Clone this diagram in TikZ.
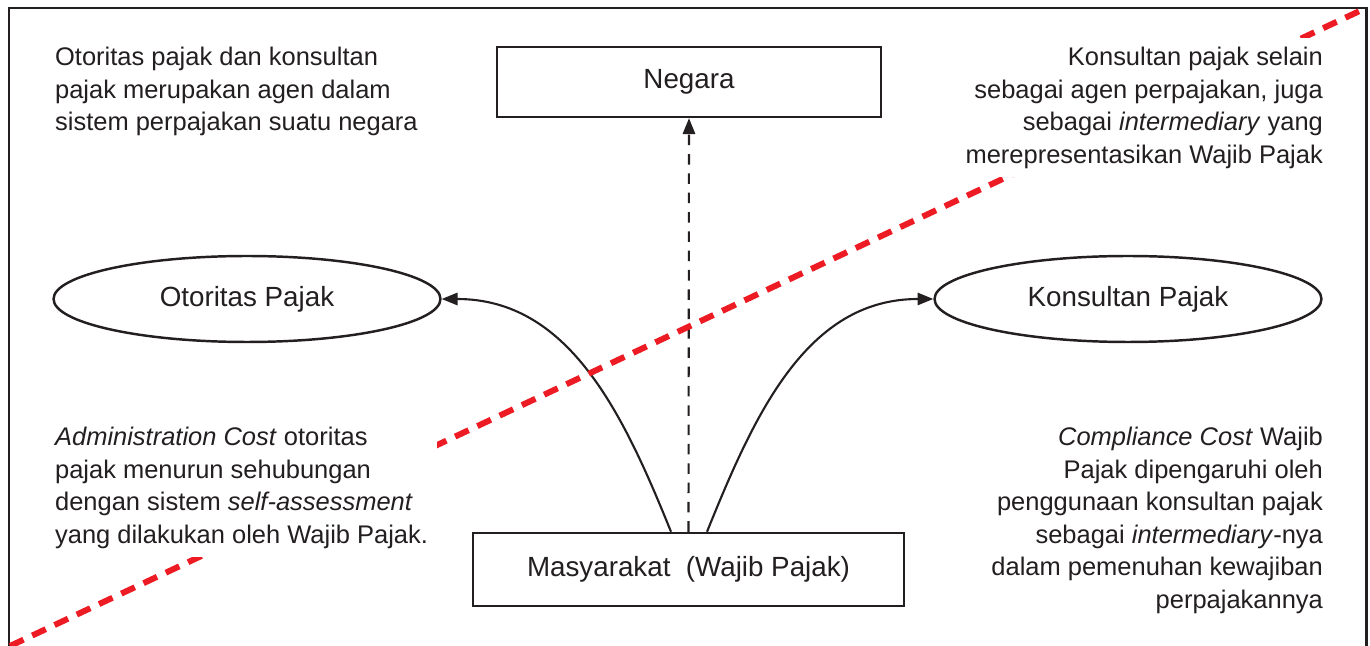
\documentclass[tikz,border=0pt]{standalone}
\usepackage{fontspec}
\setmainfont{Liberation Sans}
\usepackage{tikz}
\usetikzlibrary{shapes.geometric, arrows.meta, calc}
\definecolor{inkgray}{RGB}{35,31,32}
\definecolor{cutred}{RGB}{237,28,36}

\begin{document}
\begin{tikzpicture}[x=0.02cm, y=0.02cm, >={Triangle[length=9pt, width=7pt]},
    every node/.style={text=inkgray, font=\fontsize{14.5}{18.5}\selectfont},
    entitybox/.style={draw=inkgray, line width=1.4pt, fill=white, rectangle,
                      font=\fontsize{15.8}{19}\selectfont},
    entityoval/.style={draw=inkgray, line width=1.4pt, fill=white, ellipse,
                       minimum width=7.74cm, minimum height=1.72cm,
                       font=\fontsize{15.8}{19}\selectfont},
    notetext/.style={fill=white, inner sep=5pt},
    link/.style={->, draw=inkgray, line width=1.2pt},
    cutline/.style={draw=cutred, line width=3.4pt, dash pattern=on 8.5pt off 5.5pt}]
    \useasboundingbox (0,0) rectangle (1370,646);
    % frame, open at the bottom
    \coordinate (fbl) at (9,0);
    \coordinate (ftl) at (9,638);
    \coordinate (ftr) at (1366,638);
    \coordinate (fbr) at (1366,0);
    \draw[draw=inkgray, line width=1.7pt] (fbl) -- (ftl) -- (ftr) -- (fbr);

    % the four parties
    \node[entitybox, minimum width=7.68cm, minimum height=1.4cm]
          (negara) at (689,564) {Negara};
    \node[entitybox, minimum width=8.62cm, minimum height=1.46cm]
          (masy) at (688.5,76.5) {Masyarakat\ \ (Wajib Pajak)};
    \node[entityoval] (otoritas) at (247,347) {Otoritas Pajak};
    \node[entityoval] (konsultan) at (1128,347) {Konsultan Pajak};

    \draw[link, dash pattern=on 6pt off 5pt] (masy.north) -- (negara.south);
    \draw[link] ($(masy.north)+(-17.5,0)$) to[out=112, in=0] (otoritas.east);
    \draw[link] ($(masy.north)+(18.5,0)$) to[out=68, in=180] (konsultan.west);

    % diagonal red cut
    \coordinate (cutstart) at (10,0);
    \coordinate (cutend) at (1366,638);
    \draw[cutline] (cutstart) -- (cutend);

    % notes
    \node[notetext, anchor=north west, align=left] (noteagen) at (46,608)
          {Otoritas pajak dan konsultan\\ pajak merupakan agen dalam\\ sistem perpajakan suatu negara};
    \node[notetext, anchor=north east, align=right] (notekons) at (1332,608)
          {Konsultan pajak selain\\ sebagai agen perpajakan, juga\\
           sebagai \textit{intermediary} yang\\ merepresentasikan Wajib Pajak};
    \node[notetext, anchor=north west, align=left] (noteadmin) at (46,228)
          {\textit{Administration Cost} otoritas\\ pajak menurun sehubungan\\
           dengan sistem \textit{self-assessment}\\ yang dilakukan oleh Wajib Pajak.};
    \node[notetext, anchor=north east, align=right] (notecomp) at (1332,228)
          {\textit{Compliance Cost} Wajib\\ Pajak dipengaruhi oleh\\
           penggunaan konsultan pajak\\ sebagai \textit{intermediary}-nya\\
           dalam pemenuhan kewajiban\\ perpajakannya};
\end{tikzpicture}
\end{document}
